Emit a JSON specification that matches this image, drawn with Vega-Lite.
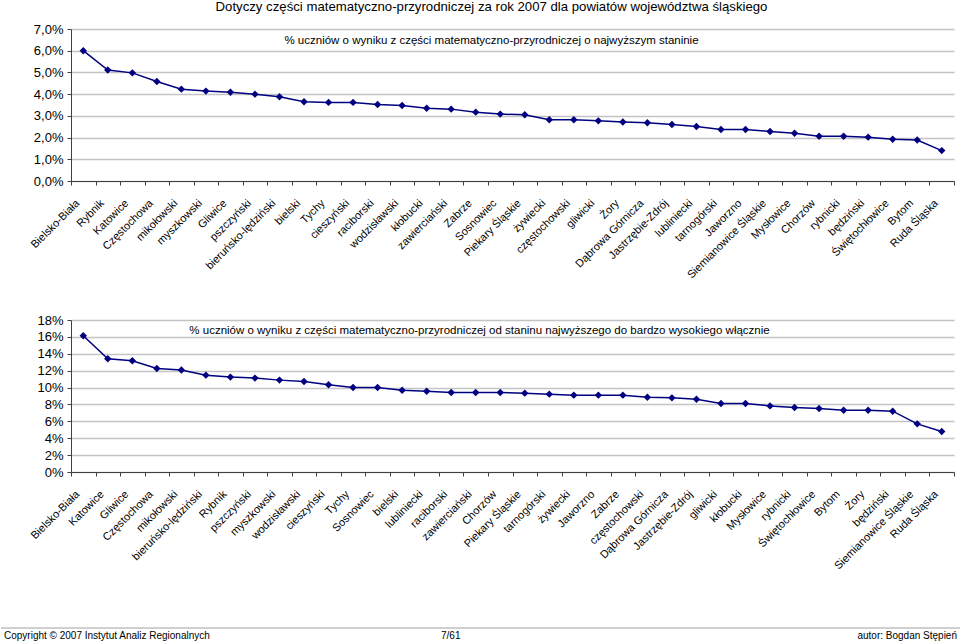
{
  "$schema": "https://vega.github.io/schema/vega-lite/v6.json",
  "background": "white",
  "padding": {"left": 0, "top": 0, "right": 0, "bottom": 0},
  "datasets": {
    "top": [
      {"powiat": "Bielsko-Biała", "v": 6.00},
      {"powiat": "Rybnik", "v": 5.11},
      {"powiat": "Katowice", "v": 4.98},
      {"powiat": "Częstochowa", "v": 4.58},
      {"powiat": "mikołowski", "v": 4.23},
      {"powiat": "myszkowski", "v": 4.14},
      {"powiat": "Gliwice", "v": 4.09},
      {"powiat": "pszczyński", "v": 4.00},
      {"powiat": "bieruńsko-lędziński", "v": 3.88},
      {"powiat": "bielski", "v": 3.65},
      {"powiat": "Tychy", "v": 3.62},
      {"powiat": "cieszyński", "v": 3.62},
      {"powiat": "raciborski", "v": 3.52},
      {"powiat": "wodzisławski", "v": 3.48},
      {"powiat": "kłobucki", "v": 3.35},
      {"powiat": "zawierciański", "v": 3.31},
      {"powiat": "Zabrze", "v": 3.17},
      {"powiat": "Sosnowiec", "v": 3.08},
      {"powiat": "Piekary Śląskie", "v": 3.05},
      {"powiat": "żywiecki", "v": 2.82},
      {"powiat": "częstochowski", "v": 2.82},
      {"powiat": "gliwicki", "v": 2.77},
      {"powiat": "Żory", "v": 2.72},
      {"powiat": "Dąbrowa Górnicza", "v": 2.68},
      {"powiat": "Jastrzębie-Zdrój", "v": 2.60},
      {"powiat": "lubliniecki", "v": 2.51},
      {"powiat": "tarnogórski", "v": 2.37},
      {"powiat": "Jaworzno", "v": 2.37},
      {"powiat": "Siemianowice Śląskie", "v": 2.28},
      {"powiat": "Mysłowice", "v": 2.20},
      {"powiat": "Chorzów", "v": 2.06},
      {"powiat": "rybnicki", "v": 2.06},
      {"powiat": "będziński", "v": 2.02},
      {"powiat": "Świętochłowice", "v": 1.92},
      {"powiat": "Bytom", "v": 1.89},
      {"powiat": "Ruda Śląska", "v": 1.40}
    ],
    "bottom": [
      {"powiat": "Bielsko-Biała", "v": 16.14},
      {"powiat": "Katowice", "v": 13.41},
      {"powiat": "Gliwice", "v": 13.17},
      {"powiat": "Częstochowa", "v": 12.26},
      {"powiat": "mikołowski", "v": 12.07},
      {"powiat": "bieruńsko-lędziński", "v": 11.47},
      {"powiat": "Rybnik", "v": 11.24},
      {"powiat": "pszczyński", "v": 11.12},
      {"powiat": "myszkowski", "v": 10.88},
      {"powiat": "wodzisławski", "v": 10.72},
      {"powiat": "cieszyński", "v": 10.33},
      {"powiat": "Tychy", "v": 10.01},
      {"powiat": "Sosnowiec", "v": 10.01},
      {"powiat": "bielski", "v": 9.69},
      {"powiat": "lubliniecki", "v": 9.57},
      {"powiat": "raciborski", "v": 9.42},
      {"powiat": "zawierciański", "v": 9.42},
      {"powiat": "Chorzów", "v": 9.42},
      {"powiat": "Piekary Śląskie", "v": 9.34},
      {"powiat": "tarnogórski", "v": 9.22},
      {"powiat": "żywiecki", "v": 9.10},
      {"powiat": "Jaworzno", "v": 9.10},
      {"powiat": "Zabrze", "v": 9.10},
      {"powiat": "częstochowski", "v": 8.86},
      {"powiat": "Dąbrowa Górnicza", "v": 8.78},
      {"powiat": "Jastrzębie-Zdrój", "v": 8.62},
      {"powiat": "gliwicki", "v": 8.11},
      {"powiat": "kłobucki", "v": 8.11},
      {"powiat": "Mysłowice", "v": 7.83},
      {"powiat": "rybnicki", "v": 7.63},
      {"powiat": "Świętochłowice", "v": 7.52},
      {"powiat": "Bytom", "v": 7.32},
      {"powiat": "Żory", "v": 7.32},
      {"powiat": "będziński", "v": 7.20},
      {"powiat": "Siemianowice Śląskie", "v": 5.70},
      {"powiat": "Ruda Śląska", "v": 4.79}
    ],
    "empty": [],
    "one": [{"k": 1}]
  },
  "spacing": 33,
  "vconcat": [
    {
      "bounds": "flush",
      "spacing": 0,
      "hconcat": [
        {"width": 70, "height": 10, "data": {"name": "empty"}, "mark": "point"},
        {
          "width": 883,
          "height": 152,
          "data": {"name": "top"},
          "title": {"text": "Dotyczy części matematyczno-przyrodniczej za rok 2007 dla powiatów województwa śląskiego", "subtitle": "% uczniów o wyniku z części matematyczno-przyrodniczej o najwyższym staninie", "anchor": "middle", "frame": "group", "fontSize": 13.2, "subtitleFontSize": 11.5, "subtitlePadding": 20, "dx": -21, "offset": -24},
          "encoding": {
            "x": {"field": "powiat", "type": "nominal", "sort": null,
                  "scale": {"type": "band", "paddingInner": 0, "paddingOuter": 0},
                  "axis": {"title": null, "labelAngle": -45, "tickBand": "extent", "labelFontSize": 11, "labelPadding": 12, "labelOffset": -10}},
            "y": {"field": "v", "type": "quantitative",
                  "scale": {"domain": [0, 7], "nice": false},
                  "axis": {"title": null, "values": [0, 1, 2, 3, 4, 5, 6, 7], "labelExpr": "replace(format(datum.value, '.1f'), '.', ',') + '%'", "grid": true, "labelFontSize": 13, "labelPadding": 4}}
          },
          "layer": [
            {"mark": {"type": "line", "color": "#000080", "strokeWidth": 1.5}},
            {"mark": {"type": "point", "shape": "diamond", "filled": true, "size": 55, "color": "#000080", "opacity": 1}}
          ]
        }
      ]
    },
    {
      "bounds": "flush",
      "spacing": 0,
      "hconcat": [
        {"width": 70, "height": 10, "data": {"name": "empty"}, "mark": "point"},
        {
          "width": 883,
          "height": 152,
          "data": {"name": "bottom"},
          "title": {"text": "% uczniów o wyniku z części matematyczno-przyrodniczej od staninu najwyższego do bardzo wysokiego włącznie", "anchor": "middle", "frame": "group", "fontSize": 11.5, "dx": -33, "offset": -22},
          "encoding": {
            "x": {"field": "powiat", "type": "nominal", "sort": null,
                  "scale": {"type": "band", "paddingInner": 0, "paddingOuter": 0},
                  "axis": {"title": null, "labelAngle": -45, "tickBand": "extent", "labelFontSize": 11, "labelPadding": 12, "labelOffset": -10}},
            "y": {"field": "v", "type": "quantitative",
                  "scale": {"domain": [0, 18], "nice": false},
                  "axis": {"title": null, "values": [0, 2, 4, 6, 8, 10, 12, 14, 16, 18], "labelExpr": "format(datum.value, 'd') + '%'", "grid": true, "labelFontSize": 13, "labelPadding": 4}}
          },
          "layer": [
            {"mark": {"type": "line", "color": "#000080", "strokeWidth": 1.5}},
            {"mark": {"type": "point", "shape": "diamond", "filled": true, "size": 55, "color": "#000080", "opacity": 1}}
          ]
        }
      ]
    },
    {
      "bounds": "flush",
      "spacing": 0,
      "hconcat": [
        {"width": 440, "height": 23, "data": {"name": "one"},
         "title": {"text": "Copyright © 2007 Instytut Analiz Regionalnych", "orient": "bottom", "anchor": "start", "frame": "group", "fontSize": 10, "dx": 3, "offset": 2},
         "mark": {"type": "rule", "color": "#a0a0a0"},
         "encoding": {"y": {"datum": 0, "type": "quantitative", "axis": null, "scale": {"domain": [0, 1]}}}},
        {"width": 300, "height": 23, "data": {"name": "one"},
         "title": {"text": "7/61", "orient": "bottom", "anchor": "start", "frame": "group", "fontSize": 10, "dx": 0, "offset": 2},
         "mark": {"type": "rule", "color": "#a0a0a0"},
         "encoding": {"y": {"datum": 0, "type": "quantitative", "axis": null, "scale": {"domain": [0, 1]}}}},
        {"width": 220, "height": 23, "data": {"name": "one"},
         "title": {"text": "autor: Bogdan Stępień", "orient": "bottom", "anchor": "end", "frame": "group", "fontSize": 10, "dx": -4, "offset": 2},
         "mark": {"type": "rule", "color": "#a0a0a0"},
         "encoding": {"y": {"datum": 0, "type": "quantitative", "axis": null, "scale": {"domain": [0, 1]}}}}
      ]
    }
  ],
  "resolve": {"scale": {"x": "independent", "y": "independent"}},
  "config": {
    "font": "Liberation Sans",
    "view": {"stroke": null},
    "title": {"fontWeight": "normal", "color": "black", "font": "Liberation Sans", "subtitleColor": "black", "subtitleFont": "Liberation Sans"},
    "axis": {"labelColor": "black", "labelFont": "Liberation Sans", "domainColor": "#404040", "tickColor": "#404040", "tickSize": 4, "gridColor": "#c4c4c4", "gridWidth": 1.5, "labelOverlap": false, "labelBound": false},
    "axisX": {"grid": false},
    "point": {"opacity": 1}
  }
}
